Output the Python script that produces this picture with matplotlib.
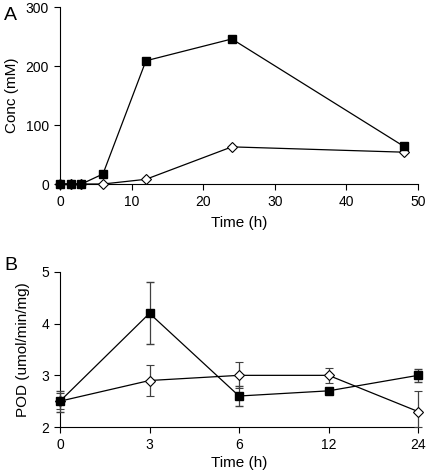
import matplotlib.pyplot as plt

plt.rcParams['font.family'] = ['Liberation Sans', 'DejaVu Sans']

# Panel A: concentration over time
time_a = [0, 1.5, 3, 6, 12, 24, 48]
conc_filled = [0, 0, 0, 17, 209, 246, 64]
conc_open = [0, 0, 0, 0, 8, 63, 54]

# Panel B: POD activity
time_b_labels = ["0", "3", "6", "12", "24"]
pod_filled = [2.5, 4.2, 2.6, 2.7, 3.0]
pod_filled_err = [0.2, 0.6, 0.2, 0.05, 0.12]
pod_open = [2.5, 2.9, 3.0, 3.0, 2.3]
pod_open_err_lo = [0.15, 0.3, 0.25, 0.14, 0.3]
pod_open_err_hi = [0.15, 0.3, 0.25, 0.14, 0.4]

fig = plt.figure(figsize=(4.27, 4.75), dpi=100)
ax1 = fig.add_axes([0.1405, 0.6126, 0.8385, 0.3724])
ax2 = fig.add_axes([0.1405, 0.101, 0.8385, 0.3264])

for ax in (ax1, ax2):
    ax.spines['top'].set_visible(False)
    ax.spines['right'].set_visible(False)
    ax.tick_params(direction='out', length=4, labelsize=10, width=0.8, pad=4)

ax1.plot(time_a, conc_open, '-', color='black', lw=0.9, marker='D', ms=5,
         mfc='white', mec='black', mew=0.8, clip_on=False, zorder=3)
ax1.plot(time_a, conc_filled, '-', color='black', lw=0.9, marker='s', ms=6,
         mfc='black', mec='black', clip_on=False, zorder=4)
ax1.set_xlim(0, 50)
ax1.set_ylim(0, 300)
ax1.set_xticks([0, 10, 20, 30, 40, 50])
ax1.set_yticks([0, 100, 200, 300])
ax1.set_xlabel("Time (h)", fontsize=11, labelpad=5)
ax1.set_ylabel("Conc (mM)", fontsize=11, labelpad=5)
fig.text(0.01, 0.985, "A", fontsize=14, va='top')

xb = list(range(len(time_b_labels)))
ax2.errorbar(xb, pod_open, yerr=[pod_open_err_lo, pod_open_err_hi], fmt='-',
             color='black', lw=0.9, marker='D', ms=5, mfc='white', mec='black',
             mew=0.8, ecolor='#404040', elinewidth=0.9, capsize=3,
             clip_on=False, zorder=3)
ax2.errorbar(xb, pod_filled, yerr=pod_filled_err, fmt='-', color='black', lw=0.9,
             marker='s', ms=6, mfc='black', mec='black',
             ecolor='#404040', elinewidth=0.9, capsize=3, clip_on=False, zorder=4)
ax2.set_xlim(0, 4)
ax2.set_ylim(2, 5)
ax2.set_xticks(xb)
ax2.set_xticklabels(time_b_labels)
ax2.set_yticks([2, 3, 4, 5])
ax2.set_xlabel("Time (h)", fontsize=11, labelpad=3)
ax2.set_ylabel("POD (umol/min/mg)", fontsize=11, labelpad=8)
fig.text(0.01, 0.46, "B", fontsize=14, va='top')

fig.savefig("out.png", dpi=100)
